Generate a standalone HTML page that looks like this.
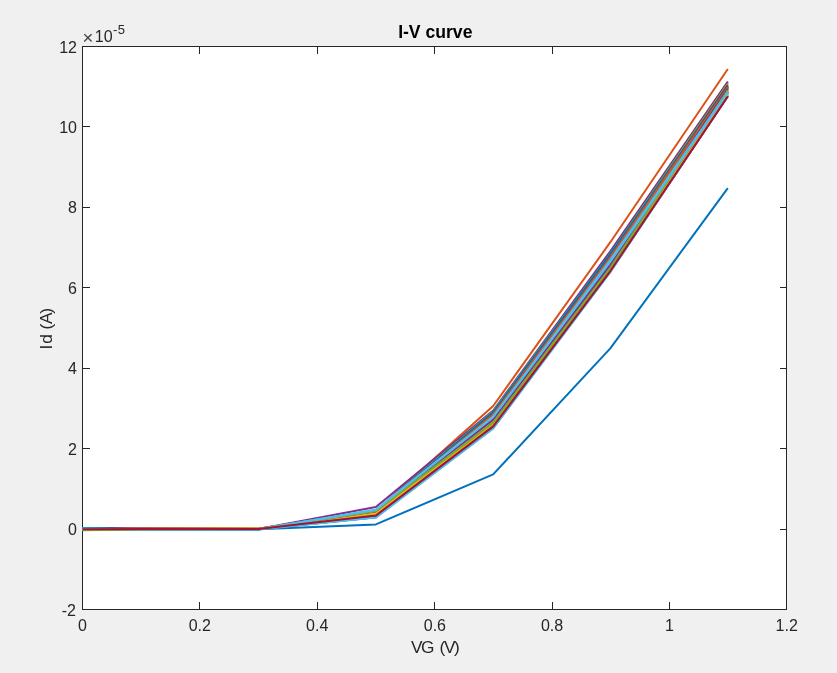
<!DOCTYPE html>
<html lang="en"><head><meta charset="utf-8"><title>I-V curve</title>
<style>
html,body{margin:0;padding:0;background:#f0f0f0;}
body{width:837px;height:673px;overflow:hidden;}
svg{display:block;}
text{font-family:"Liberation Sans",sans-serif;fill:#262626;}
.tk{font-size:16px;}
.lb{font-size:17.3px;}
.ti{font-size:17.6px;font-weight:bold;fill:#000;}
.ax{stroke:#262626;stroke-width:1;fill:none;shape-rendering:crispEdges;}
.ln polyline{fill:none;stroke-width:2;stroke-linejoin:round;stroke-linecap:butt;}
</style></head><body>
<svg width="837" height="673" viewBox="0 0 837 673">
<rect x="0" y="0" width="837" height="673" fill="#f0f0f0"/>
<rect x="82.5" y="46.5" width="704.0" height="563.0" fill="#ffffff" stroke="none"/>
<path class="ax" d="M82.5 46.5H786.5V609.5H82.5ZM82.5 609.5v-7.5M82.5 46.5v7.5M199.5 609.5v-7.5M199.5 46.5v7.5M317.5 609.5v-7.5M317.5 46.5v7.5M434.5 609.5v-7.5M434.5 46.5v7.5M552.5 609.5v-7.5M552.5 46.5v7.5M669.5 609.5v-7.5M669.5 46.5v7.5M786.5 609.5v-7.5M786.5 46.5v7.5M82.5 609.5h7M786.5 609.5h-7M82.5 529.5h7M786.5 529.5h-7M82.5 448.5h7M786.5 448.5h-7M82.5 368.5h7M786.5 368.5h-7M82.5 287.5h7M786.5 287.5h-7M82.5 207.5h7M786.5 207.5h-7M82.5 126.5h7M786.5 126.5h-7M82.5 46.5h7M786.5 46.5h-7"/>
<g class="ln">
<polyline points="82.50,529.07 141.17,529.07 258.50,529.27 375.83,524.41 493.17,474.38 610.50,348.11 727.83,188.05" stroke="#0072BD"/>
<polyline points="82.50,528.67 141.17,528.67 258.50,529.07 375.83,510.77 493.17,406.02 610.50,241.94 727.83,69.02" stroke="#D95319"/>
<polyline points="82.50,529.88 141.17,528.79 258.50,529.33 375.83,514.97 493.17,423.37 610.50,267.99 727.83,91.64" stroke="#EDB120"/>
<polyline points="82.50,529.29 141.17,529.40 258.50,529.32 375.83,517.33 493.17,425.45 610.50,271.30 727.83,96.37" stroke="#7E2F8E"/>
<polyline points="82.50,528.22 141.17,528.87 258.50,529.07 375.83,511.63 493.17,420.11 610.50,256.09 727.83,88.38" stroke="#77AC30"/>
<polyline points="82.50,529.95 141.17,529.15 258.50,528.74 375.83,517.20 493.17,425.13 610.50,267.39 727.83,94.94" stroke="#4DBEEE"/>
<polyline points="82.50,530.07 141.17,529.41 258.50,529.23 375.83,512.97 493.17,419.11 610.50,261.63 727.83,87.99" stroke="#A2142F"/>
<polyline points="82.50,529.57 141.17,528.64 258.50,528.83 375.83,514.80 493.17,419.83 610.50,262.00 727.83,87.85" stroke="#0072BD"/>
<polyline points="82.50,529.60 141.17,528.45 258.50,529.30 375.83,512.34 493.17,413.92 610.50,259.15 727.83,85.86" stroke="#D95319"/>
<polyline points="82.50,528.80 141.17,528.67 258.50,528.93 375.83,516.15 493.17,428.13 610.50,269.10 727.83,95.31" stroke="#EDB120"/>
<polyline points="82.50,529.24 141.17,528.60 258.50,528.63 375.83,513.28 493.17,417.08 610.50,262.82 727.83,86.92" stroke="#7E2F8E"/>
<polyline points="82.50,528.12 141.17,528.61 258.50,529.16 375.83,513.02 493.17,415.89 610.50,261.74 727.83,87.20" stroke="#77AC30"/>
<polyline points="82.50,529.95 141.17,529.41 258.50,528.78 375.83,517.16 493.17,426.80 610.50,268.71 727.83,92.00" stroke="#4DBEEE"/>
<polyline points="82.50,529.26 141.17,528.90 258.50,528.68 375.83,515.99 493.17,424.47 610.50,271.28 727.83,95.64" stroke="#A2142F"/>
<polyline points="82.50,528.35 141.17,528.47 258.50,529.27 375.83,515.66 493.17,423.60 610.50,266.01 727.83,91.25" stroke="#0072BD"/>
<polyline points="82.50,529.65 141.17,529.47 258.50,529.06 375.83,513.49 493.17,417.53 610.50,256.17 727.83,86.84" stroke="#D95319"/>
<polyline points="82.50,528.91 141.17,528.77 258.50,529.35 375.83,512.64 493.17,417.48 610.50,258.22 727.83,87.35" stroke="#EDB120"/>
<polyline points="82.50,529.36 141.17,529.37 258.50,528.88 375.83,515.71 493.17,424.04 610.50,265.52 727.83,92.45" stroke="#7E2F8E"/>
<polyline points="82.50,530.09 141.17,529.47 258.50,529.27 375.83,515.99 493.17,423.10 610.50,267.90 727.83,89.49" stroke="#77AC30"/>
<polyline points="82.50,529.89 141.17,529.21 258.50,529.11 375.83,513.32 493.17,419.86 610.50,256.42 727.83,84.91" stroke="#4DBEEE"/>
<polyline points="82.50,529.19 141.17,529.38 258.50,529.31 375.83,514.45 493.17,421.54 610.50,259.55 727.83,91.38" stroke="#A2142F"/>
<polyline points="82.50,528.21 141.17,528.92 258.50,529.28 375.83,517.13 493.17,428.13 610.50,270.63 727.83,93.54" stroke="#0072BD"/>
<polyline points="82.50,528.74 141.17,529.20 258.50,529.10 375.83,512.03 493.17,411.51 610.50,253.70 727.83,82.41" stroke="#D95319"/>
<polyline points="82.50,529.73 141.17,528.63 258.50,528.60 375.83,514.10 493.17,420.53 610.50,262.36 727.83,90.34" stroke="#EDB120"/>
<polyline points="82.50,528.67 141.17,528.75 258.50,529.07 375.83,506.99 493.17,410.64 610.50,250.99 727.83,81.61" stroke="#7E2F8E"/>
<polyline points="82.50,530.08 141.17,529.07 258.50,528.75 375.83,510.57 493.17,411.44 610.50,253.52 727.83,83.62" stroke="#77AC30"/>
<polyline points="82.50,528.59 141.17,528.75 258.50,529.07 375.83,510.77 493.17,413.25 610.50,255.61 727.83,85.39" stroke="#A2142F"/>
<polyline points="82.50,528.27 141.17,529.47 258.50,529.39 375.83,517.61 493.17,428.42 610.50,271.90 727.83,95.16" stroke="#4DBEEE"/>
<polyline points="82.50,527.95 141.17,529.07 258.50,529.27 375.83,510.98 493.17,412.21 610.50,254.01 727.83,86.31" stroke="#0072BD"/>
<polyline points="82.50,529.47 141.17,528.51 258.50,528.75 375.83,511.38 493.17,414.50 610.50,257.02 727.83,87.32" stroke="#D95319"/>
<polyline points="82.50,529.80 141.17,528.35 258.50,528.43 375.83,513.83 493.17,424.59 610.50,269.29 727.83,94.19" stroke="#EDB120"/>
<polyline points="82.50,529.07 141.17,528.59 258.50,529.07 375.83,510.89 493.17,419.77 610.50,264.26 727.83,88.81" stroke="#7E2F8E"/>
<polyline points="82.50,530.36 141.17,529.47 258.50,528.91 375.83,511.14 493.17,422.58 610.50,267.60 727.83,90.21" stroke="#77AC30"/>
<polyline points="82.50,528.67 141.17,529.27 258.50,529.31 375.83,509.81 493.17,416.87 610.50,261.45 727.83,92.75" stroke="#4DBEEE"/>
<polyline points="82.50,528.67 141.17,529.27 258.50,529.31 375.83,509.81 493.17,416.71 610.50,259.64 727.83,92.10" stroke="#4DBEEE"/>
<polyline points="82.50,529.19 141.17,528.95 258.50,529.07 375.83,515.60 493.17,426.40 610.50,270.78 727.83,96.29" stroke="#A2142F"/>
</g>
<text class="tk" x="82.4" y="630.8" text-anchor="middle">0</text>
<text class="tk" x="199.8" y="630.8" text-anchor="middle">0.2</text>
<text class="tk" x="317.2" y="630.8" text-anchor="middle">0.4</text>
<text class="tk" x="434.9" y="630.8" text-anchor="middle">0.6</text>
<text class="tk" x="552.0" y="630.8" text-anchor="middle">0.8</text>
<text class="tk" x="669.4" y="630.8" text-anchor="middle">1</text>
<text class="tk" x="786.7" y="630.8" text-anchor="middle">1.2</text>
<text class="tk" x="75.9" y="616.2" text-anchor="end">-2</text>
<text class="tk" x="77.0" y="534.8" text-anchor="end">0</text>
<text class="tk" x="77.0" y="455.4" text-anchor="end">2</text>
<text class="tk" x="77.0" y="373.9" text-anchor="end">4</text>
<text class="tk" x="77.0" y="293.5" text-anchor="end">6</text>
<text class="tk" x="77.0" y="213.1" text-anchor="end">8</text>
<text class="tk" x="77.0" y="132.6" text-anchor="end">10</text>
<text class="tk" x="77.0" y="52.5" text-anchor="end">12</text>
<text class="tk" x="82.6" y="42"><tspan font-size="18.5px" fill="#444" dy="2.1">×</tspan><tspan dx="1.4" dy="-2.1">10</tspan><tspan dx="0.5" dy="-7.6" font-size="13px" letter-spacing="0.3">-5</tspan></text>
<text class="lb" x="411 421 434.7 439.6 444 454.1" y="652.6">VG (V)</text>
<text class="lb" transform="translate(51.8,0) rotate(-90)" x="-349.4 -343.8 -334 -329.4 -324.1 -313.8" y="0">Id (A)</text>
<text class="ti" x="435.3" y="37.9" text-anchor="middle">I-V curve</text>
</svg></body></html>
